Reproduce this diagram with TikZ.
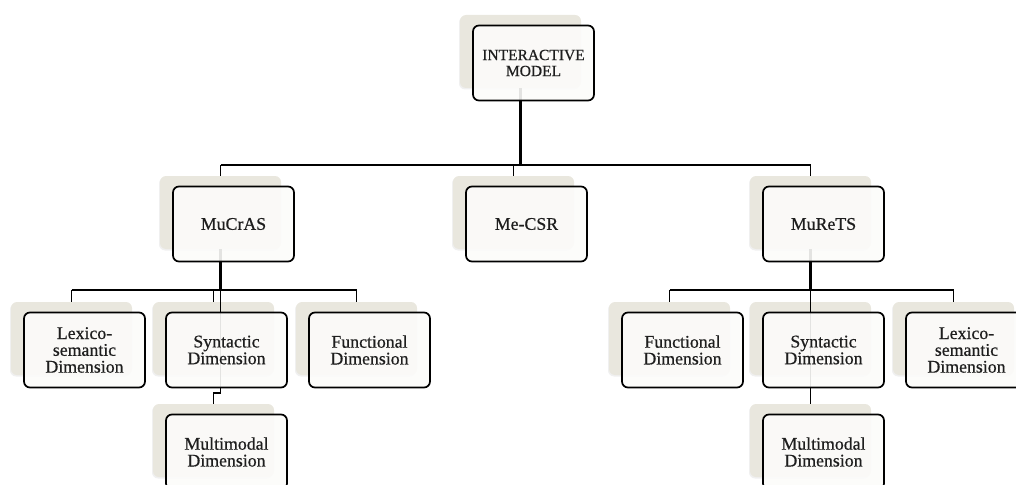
\documentclass[tikz,border=0pt]{standalone}
\usepackage{fontspec}
\setmainfont{Liberation Serif}[FakeBold=0.6]
\usetikzlibrary{shadows}
\definecolor{shade}{RGB}{233,231,222}
\definecolor{txt}{RGB}{30,30,30}
\definecolor{boxfill}{RGB}{252,252,250}
\tikzset{
  shadowbox/.style={fill=shade, rounded corners=6pt, minimum width=121pt, minimum height=73pt, inner sep=0pt,
    drop shadow={opacity=0.12, shadow xshift=-1pt, shadow yshift=-1.5pt}},
  whitebox/.style={draw=black, line width=1.7pt, fill=boxfill, fill opacity=0.9, text opacity=1, draw opacity=1,
    rounded corners=6pt, minimum width=121pt, minimum height=75pt, inner sep=2pt, align=center, text=txt,
    font=\fontsize{17.8}{16.8}\selectfont},
  thickline/.style={line width=2.6pt},
  busline/.style={line width=1.8pt},
}
\newcommand{\shbox}[3]{\node[shadowbox] (#1s) at ({#2+60.5},{#3+36.5}) {};}
\newcommand{\wbox}[2]{\node[whitebox] (#1) at ([shift={(13,11.5)}]#1s.center) {#2};}
\begin{document}
\begin{tikzpicture}[x=1pt,y=-1pt]
\useasboundingbox (0,0) rectangle (1016,484);
% shadows
\shbox{top}{460}{15}
\shbox{MuCrAS}{160}{176}
\shbox{MeCSR}{453}{176}
\shbox{MuReTS}{750}{176}
\shbox{LexL}{11}{302}
\shbox{SynL}{153}{302}
\shbox{FunL}{296}{302}
\shbox{MulL}{153}{404}
\shbox{FunR}{609}{302}
\shbox{SynR}{750}{302}
\shbox{LexR}{893}{302}
\shbox{MulR}{750}{404}
% bus levels
\coordinate (bus0) at (0,165);
\coordinate (bus1) at (0,290);
\coordinate (jog) at (0,393);
% top level connectors
\draw[thickline] (tops.south) -- (tops.south |- bus0);
\draw[busline] (MuCrASs.north |- bus0) -- (MuReTSs.north |- bus0);
\draw[busline] (MuCrASs.north |- bus0) -- (MuCrASs.north);
\draw[busline] (MeCSRs.north |- bus0) -- (MeCSRs.north);
\draw[busline] (MuReTSs.north |- bus0) -- (MuReTSs.north);
% left branch
\draw[thickline] (MuCrASs.south) -- (MuCrASs.south |- bus1);
\draw[busline] (LexLs.north |- bus1) -- (FunLs.north |- bus1);
\draw[busline] (LexLs.north |- bus1) -- (LexLs.north);
\draw[busline] (SynLs.north |- bus1) -- (SynLs.north);
\draw[busline] (FunLs.north |- bus1) -- (FunLs.north);
\draw[busline] (MuCrASs.south |- bus1) -- (MuCrASs.south |- jog) -- (MulLs.north |- jog) -- (MulLs.north);
% right branch
\draw[thickline] (MuReTSs.south) -- (MuReTSs.south |- bus1);
\draw[busline] (FunRs.north |- bus1) -- (LexRs.north |- bus1);
\draw[busline] (FunRs.north |- bus1) -- (FunRs.north);
\draw[busline] (SynRs.north |- bus1) -- (SynRs.north);
\draw[busline] (LexRs.north |- bus1) -- (LexRs.north);
\draw[busline] (SynRs.north |- bus1) -- (MulRs.north);
% white boxes
\node[whitebox, font=\fontsize{15.5}{16}\selectfont] (top) at ([shift={(13,11.5)}]tops.center) {INTERACTIVE\\MODEL};
\wbox{MuCrAS}{MuCrAS}
\wbox{MeCSR}{Me-CSR}
\wbox{MuReTS}{MuReTS}
\wbox{LexL}{Lexico-\\semantic\\Dimension}
\wbox{SynL}{Syntactic\\Dimension}
\wbox{FunL}{Functional\\Dimension}
\wbox{MulL}{Multimodal\\Dimension}
\wbox{FunR}{Functional\\Dimension}
\wbox{SynR}{Syntactic\\Dimension}
\wbox{LexR}{Lexico-\\semantic\\Dimension}
\wbox{MulR}{Multimodal\\Dimension}
\end{tikzpicture}
\end{document}
